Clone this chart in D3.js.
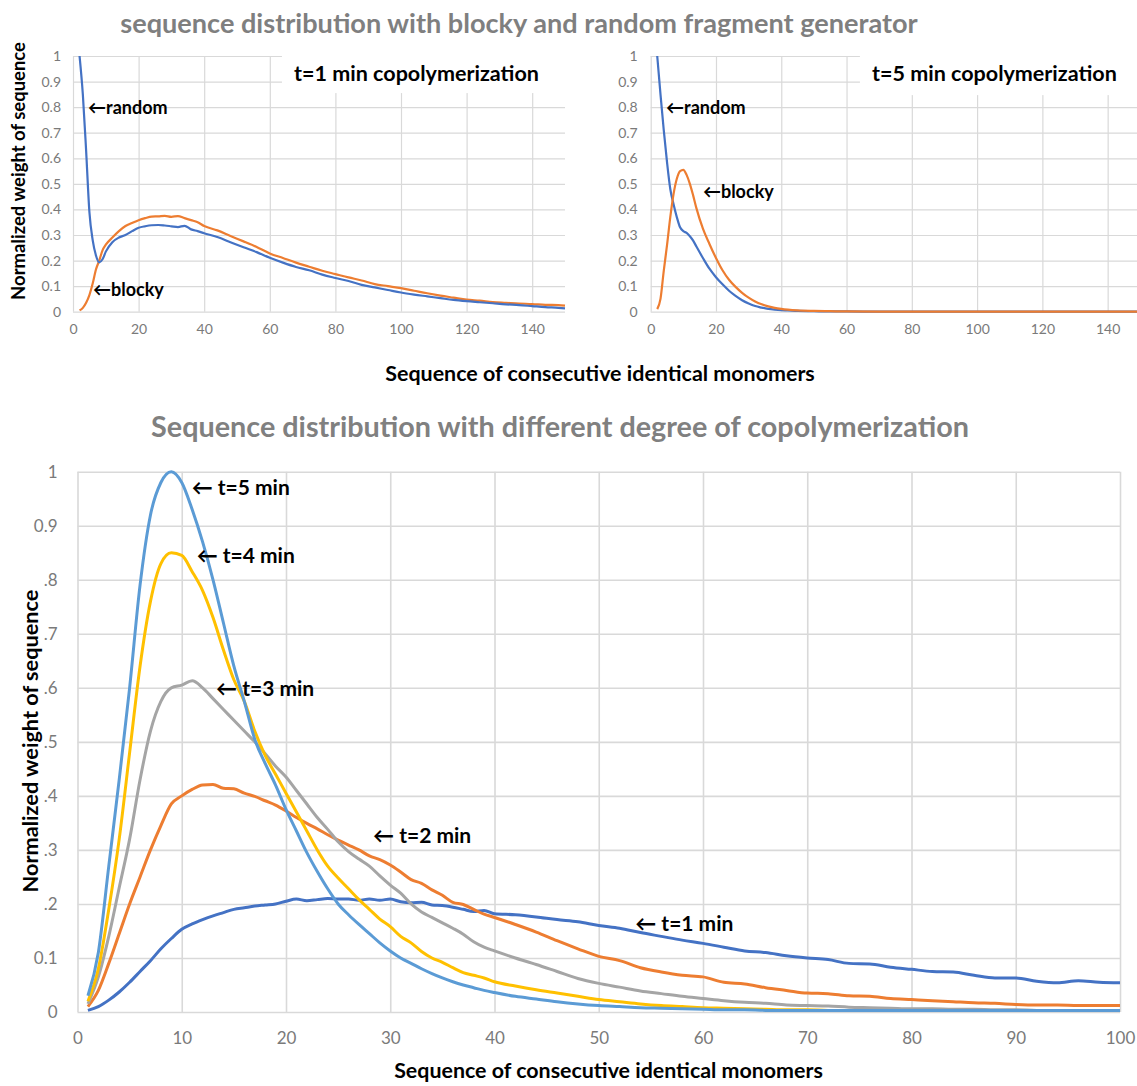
<!DOCTYPE html>
<html>
<head>
<meta charset="utf-8">
<script src="https://cdn.jsdelivr.net/npm/d3@7"></script>
<style>
  body { margin: 0; background: #fff; }
  text { font-family: Lato, "Open Sans", sans-serif; }
</style>
</head>
<body>
<svg width="1137" height="1086"></svg>
<script>

// ---- data ----

// top left, t=1 min
var t1X = [2,3,4,5,6,7,8,9,10,12,14,16,18,20,22,24,26,28,30,32,34,36,38,40,44,48,52,56,60,64,68,72,76,80,84,88,92,96,100,104,108,112,116,120,124,128,132,136,140,144,148,150];
var t1Random = [1.0,0.85,0.63,0.39,0.28,0.22,0.193,0.205,0.235,
  0.272,0.29,0.3,0.315,0.328,0.334,0.338,0.339,0.337,0.334,0.331,0.336,0.322,0.315,0.307,
  0.292,0.272,0.252,0.233,0.211,0.192,0.175,0.162,0.145,0.132,0.12,0.105,0.095,0.085,0.075,0.067,0.06,0.053,0.046,0.041,0.037,0.033,0.029,0.026,0.022,0.018,0.015,
  0.013];
var t1Blocky = [0.005,0.015,0.035,0.065,0.11,0.165,0.2,0.24,0.262,
  0.29,0.315,0.335,0.347,0.358,0.366,0.372,0.373,0.375,0.371,0.374,0.366,0.358,0.35,0.335,
  0.318,0.296,0.275,0.253,0.228,0.21,0.192,0.176,0.16,0.147,0.134,0.122,0.108,0.1,0.092,0.082,0.072,0.063,0.055,0.047,0.043,0.038,0.035,0.032,0.03,0.027,0.026,
  0.024];

// top right, t=5 min
var t5X = [2,3,4,5,6,7,8,9,10,11,12,13,14,16,18,20,22,24,26,28,30,32,34,36,38,40,42,45,50,55,60,70,80,90,100,110,120,130,140,150];
var t5Random = [1.0,0.85,0.71,0.585,0.48,0.42,0.37,0.33,0.315,0.308,0.295,0.278,0.255,
  0.21,0.168,0.135,0.107,0.082,0.062,0.045,0.032,0.022,0.016,0.011,0.008,0.006,0.005,
  0.003,0.002,0.001,0.001,0,0,0,0,0,0,0,0,0];
var t5Blocky = [0.01,0.05,0.16,0.26,0.37,0.46,0.52,0.55,0.555,0.535,0.5,0.455,0.405,
  0.325,0.265,0.21,0.162,0.125,0.097,0.074,0.055,0.04,0.029,0.021,0.015,0.011,0.008,
  0.005,0.003,0.002,0.001,0,0,0,0,0,0,0,0,0];

// bottom, degree of copolymerization
var seqX = [1,2,3,4,5,6,7,8,9,10,11,12,13,14,15,16,17,18,19,20,21,22,23,24,25,26,27,28,29,30,31,32,33,34,35,36,37,38,39,40,
  42,44,46,48,50,52,54,56,58,60,62,64,66,68,70,72,74,76,78,80,82,84,86,88,90,92,94,96,98,100];
var min1 = [0.003,0.01,0.022,0.037,0.055,0.075,0.095,0.117,0.136,0.153,0.163,0.171,0.178,0.184,0.19,0.193,0.196,0.198,0.2,0.205,
  0.209,0.206,0.208,0.21,0.209,0.209,0.207,0.209,0.207,0.209,0.204,0.202,0.203,0.198,0.197,0.194,0.19,0.186,0.188,0.182,
  0.18,0.176,0.171,0.167,0.16,0.155,0.147,0.14,0.133,0.127,0.12,0.113,0.11,0.104,0.1,0.097,0.09,0.089,0.083,0.079,
  0.075,0.074,0.068,0.063,0.063,0.057,0.054,0.058,0.055,0.054];
var min2 = [0.01,0.04,0.09,0.145,0.2,0.25,0.3,0.345,0.385,0.4,0.412,0.42,0.421,0.414,0.413,0.405,0.399,0.391,0.383,0.372,
  0.36,0.349,0.339,0.328,0.318,0.309,0.3,0.289,0.282,0.272,0.259,0.245,0.238,0.226,0.216,0.203,0.199,0.19,0.181,0.175,
  0.162,0.148,0.132,0.117,0.103,0.095,0.082,0.074,0.068,0.065,0.055,0.052,0.045,0.04,0.035,0.034,0.03,0.029,0.025,0.023,
  0.021,0.019,0.017,0.016,0.014,0.013,0.013,0.012,0.012,0.012];
var min3 = [0.015,0.065,0.14,0.23,0.32,0.43,0.52,0.575,0.6,0.605,0.613,0.6,0.58,0.56,0.54,0.52,0.5,0.478,0.455,0.435,
  0.41,0.385,0.36,0.338,0.315,0.297,0.283,0.27,0.252,0.235,0.22,0.2,0.185,0.175,0.165,0.155,0.144,0.13,0.12,0.113,
  0.1,0.088,0.075,0.062,0.053,0.046,0.039,0.034,0.029,0.025,0.021,0.018,0.016,0.013,0.012,0.011,0.009,0.008,0.007,0.006,
  0.006,0.005,0.005,0.004,0.004,0.003,0.003,0.003,0.003,0.003];
var min4 = [0.02,0.08,0.19,0.32,0.48,0.64,0.76,0.83,0.85,0.845,0.815,0.78,0.73,0.67,0.615,0.575,0.52,0.475,0.44,0.405,
  0.37,0.335,0.3,0.27,0.248,0.228,0.208,0.19,0.172,0.158,0.14,0.128,0.112,0.1,0.092,0.082,0.073,0.068,0.063,0.056,
  0.048,0.041,0.035,0.029,0.023,0.019,0.015,0.012,0.01,0.008,0.007,0.006,0.005,0.004,0.004,0.003,0.003,0.003,0.003,0.003,
  0.003,0.003,0.003,0.003,0.003,0.003,0.003,0.003,0.003,0.003];
var min5 = [0.03,0.11,0.27,0.43,0.6,0.79,0.92,0.98,1.0,0.98,0.93,0.87,0.8,0.72,0.64,0.575,0.505,0.46,0.42,0.375,
  0.335,0.295,0.26,0.228,0.2,0.18,0.162,0.145,0.128,0.113,0.1,0.09,0.08,0.071,0.063,0.056,0.05,0.045,0.04,0.036,
  0.029,0.024,0.019,0.015,0.012,0.01,0.008,0.007,0.006,0.005,0.004,0.004,0.003,0.003,0.003,0.003,0.003,0.003,0.003,0.003,
  0.003,0.003,0.003,0.003,0.003,0.003,0.003,0.003,0.003,0.003];

// ticks
var topXTicks = [0,20,40,60,80,100,120,140];
var topYTicks = [0,0.1,0.2,0.3,0.4,0.5,0.6,0.7,0.8,0.9,1];
var topYLabels = ["0","0.1","0.2","0.3","0.4","0.5","0.6","0.7","0.8","0.9","1"];
var bottomXTicks = [0,10,20,30,40,50,60,70,80,90,100];
var bottomYTicks = [0,0.1,0.2,0.3,0.4,0.5,0.6,0.7,0.8,0.9,1];
var bottomYLabels = ["0","0.1",".2",".3",".4",".5",".6",".7",".8","0.9","1"];

var BLUE = "#4472C4", ORANGE = "#ED7D31", GRAY = "#A5A5A5", GOLD = "#FFC000", LIGHTBLUE = "#5B9BD5";

var svg = d3.select("svg");

// shrink or grow a text so that it spans a given width
function fitWidth(sel, w) {
  var len = sel.node().getComputedTextLength();
  var fs = parseFloat(sel.attr("font-size"));
  sel.attr("font-size", fs * w / len);
}

function panel(o) {
  var x = d3.scaleLinear().domain(o.xDomain).range([o.left, o.right]);
  var y = d3.scaleLinear().domain([0, 1]).range([o.bottom, o.top]);
  var g = svg.append("g");

  var clipId = "clip" + Math.round(o.left);
  g.append("clipPath").attr("id", clipId)
    .append("rect")
    .attr("x", o.left - 2).attr("y", o.top - 4)
    .attr("width", o.right - o.left + 4).attr("height", o.bottom - o.top + 6);

  // gridlines
  g.append("g")
    .attr("class", "grid")
    .attr("transform", "translate(0," + o.bottom + ")")
    .call(d3.axisBottom(x).tickValues(o.gridX).tickSize(-(o.bottom - o.top)).tickFormat(""));
  g.append("g")
    .attr("class", "grid")
    .attr("transform", "translate(" + o.left + ",0)")
    .call(d3.axisLeft(y).tickValues(o.yTicks).tickSize(-(o.right - o.left)).tickFormat(""));
  g.selectAll(".grid .domain").remove();
  g.selectAll(".grid line").attr("stroke", "#d9d9d9").attr("stroke-width", o.gridWidth);

  // white label box that hides part of the grid
  if (o.box) {
    g.append("rect")
      .attr("x", x(o.box.x0)).attr("y", y(o.box.y1))
      .attr("width", x(o.box.x1) - x(o.box.x0) + 2)
      .attr("height", y(o.box.y0) - y(o.box.y1))
      .attr("fill", "#fff");
    g.append("text")
      .attr("x", x(o.box.tx)).attr("y", y(o.box.ty))
      .attr("dominant-baseline", "central")
      .attr("font-size", 20).attr("font-weight", "bold").attr("fill", "#000")
      .text(o.box.text)
      .call(fitWidth, o.box.width);
  }

  // tick labels
  var xa = g.append("g")
    .attr("transform", "translate(0," + o.bottom + ")")
    .call(d3.axisBottom(x).tickValues(o.xTicks).tickSize(0).tickPadding(o.xPad).tickFormat(d3.format("d")));
  var ya = g.append("g")
    .attr("transform", "translate(" + o.left + ",0)")
    .call(d3.axisLeft(y).tickValues(o.yTicks).tickSize(0).tickPadding(o.yPad).tickFormat(function(d, i) { return o.yLabels[i]; }));
  [xa, ya].forEach(function(a) {
    a.select(".domain").remove();
    a.selectAll("text")
      .attr("font-size", o.tickSize)
      .attr("fill", "#7a7a7a")
      .style("font-family", "Lato, 'Open Sans', sans-serif");
  });

  // series
  var line = d3.line()
    .x(function(d) { return x(d[0]); })
    .y(function(d) { return y(d[1]); })
    .curve(d3.curveMonotoneX);
  o.series.forEach(function(s) {
    g.append("path")
      .datum(s.xs.map(function(v, i) { return [v, s.ys[i]]; }))
      .attr("clip-path", "url(#" + clipId + ")")
      .attr("fill", "none")
      .attr("stroke", s.color)
      .attr("stroke-width", o.lineWidth)
      .attr("stroke-linejoin", "round")
      .attr("d", line);
  });

  // arrow notes
  g.selectAll(".note")
    .data(o.notes)
    .enter().append("text")
    .attr("class", "note")
    .attr("x", function(d) { return x(d.x); })
    .attr("y", function(d) { return y(d.y); })
    .attr("dominant-baseline", "central")
    .attr("font-size", o.noteSize)
    .attr("font-weight", "bold")
    .attr("fill", "#000")
    .text(function(d) { return d.text; });

  return g;
}

// top left
panel({
  left: 73, right: 565, top: 56, bottom: 311.7,
  xDomain: [0, 150], xTicks: topXTicks, gridX: topXTicks, yTicks: topYTicks, yLabels: topYLabels,
  xPad: 12, yPad: 12, tickSize: 14, gridWidth: 1.2, lineWidth: 2.2, noteSize: 18,
  box: { x0: 63.7, x1: 150, y0: 0.855, y1: 1.03, tx: 67.4, ty: 0.935, text: "t=1 min copolymerization", width: 245 },
  series: [
    { xs: t1X, ys: t1Blocky, color: ORANGE },
    { xs: t1X, ys: t1Random, color: BLUE }
  ],
  notes: [
    { x: 4.6, y: 0.8, text: "\u2190random" },
    { x: 6.1, y: 0.089, text: "\u2190blocky" }
  ]
});

// top right
panel({
  left: 650.7, right: 1140.3, top: 56, bottom: 311.7,
  xDomain: [0, 150], xTicks: topXTicks, gridX: topXTicks.concat([150]), yTicks: topYTicks, yLabels: topYLabels,
  xPad: 12, yPad: 13, tickSize: 14, gridWidth: 1.2, lineWidth: 2.2, noteSize: 18,
  box: { x0: 64.1, x1: 150, y0: 0.847, y1: 1.03, tx: 67.8, ty: 0.935, text: "t=5 min copolymerization", width: 245 },
  series: [
    { xs: t5X, ys: t5Random, color: BLUE },
    { xs: t5X, ys: t5Blocky, color: ORANGE }
  ],
  notes: [
    { x: 4.7, y: 0.8, text: "\u2190random" },
    { x: 16.0, y: 0.472, text: "\u2190blocky" }
  ]
});

// bottom
panel({
  left: 77.5, right: 1120, top: 471.7, bottom: 1012,
  xDomain: [0, 100], xTicks: bottomXTicks, gridX: bottomXTicks, yTicks: bottomYTicks, yLabels: bottomYLabels,
  xPad: 20, yPad: 20, tickSize: 17, gridWidth: 1.6, lineWidth: 3, noteSize: 21,
  series: [
    { xs: seqX, ys: min1, color: BLUE },
    { xs: seqX, ys: min2, color: ORANGE },
    { xs: seqX, ys: min3, color: GRAY },
    { xs: seqX, ys: min4, color: GOLD },
    { xs: seqX, ys: min5, color: LIGHTBLUE }
  ],
  notes: [
    { x: 10.95, y: 0.972, text: "\u2190 t=5 min" },
    { x: 11.43, y: 0.846, text: "\u2190 t=4 min" },
    { x: 13.29, y: 0.6, text: "\u2190 t=3 min" },
    { x: 28.35, y: 0.328, text: "\u2190 t=2 min" },
    { x: 53.5, y: 0.165, text: "\u2190 t=1 min" }
  ]
});

// titles
svg.append("text")
  .attr("x", 519).attr("y", 22)
  .attr("text-anchor", "middle").attr("dominant-baseline", "central")
  .attr("font-size", 26).attr("font-weight", "bold").attr("fill", "#7f7f7f")
  .text("sequence distribution with blocky and random fragment generator")
  .call(fitWidth, 798);

svg.append("text")
  .attr("x", 600).attr("y", 373)
  .attr("text-anchor", "middle").attr("dominant-baseline", "central")
  .attr("font-size", 21).attr("font-weight", "bold").attr("fill", "#000")
  .text("Sequence of consecutive identical monomers")
  .call(fitWidth, 430);

svg.append("text")
  .attr("x", 560).attr("y", 426)
  .attr("text-anchor", "middle").attr("dominant-baseline", "central")
  .attr("font-size", 26).attr("font-weight", "bold").attr("fill", "#808080")
  .text("Sequence distribution with different degree of copolymerization")
  .call(fitWidth, 818);

svg.append("text")
  .attr("x", 608.5).attr("y", 1070)
  .attr("text-anchor", "middle").attr("dominant-baseline", "central")
  .attr("font-size", 20).attr("font-weight", "bold").attr("fill", "#000")
  .text("Sequence of consecutive identical monomers")
  .call(fitWidth, 429);

// y axis titles
svg.append("text")
  .attr("transform", "translate(18,171) rotate(-90)")
  .attr("text-anchor", "middle").attr("dominant-baseline", "central")
  .attr("font-size", 17).attr("font-weight", "bold").attr("fill", "#000")
  .text("Normalized weight of sequence")
  .call(fitWidth, 258);

svg.append("text")
  .attr("transform", "translate(30,741) rotate(-90)")
  .attr("text-anchor", "middle").attr("dominant-baseline", "central")
  .attr("font-size", 20).attr("font-weight", "bold").attr("fill", "#000")
  .text("Normalized weight of sequence")
  .call(fitWidth, 303);

</script>
</body>
</html>
